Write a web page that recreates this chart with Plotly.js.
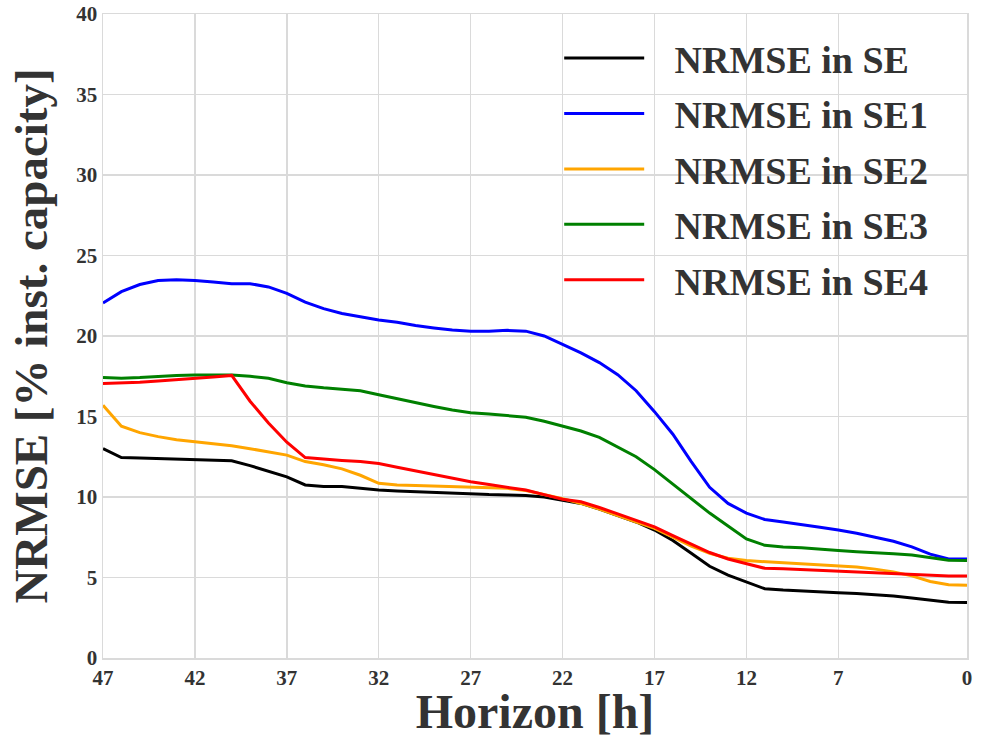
<!DOCTYPE html>
<html>
<head>
<meta charset="utf-8">
<script src="https://cdn.plot.ly/plotly-3.0.1.min.js"></script>
<style>html,body{margin:0;padding:0;background:#fff;}#chart{width:987px;height:738px;}</style>
</head>
<body>
<div id="chart"></div>
<script>
// Forecast horizon in hours (47 down to 0)
const horizon = [47,46,45,44,43,42,41,40,39,38,37,36,35,34,33,32,31,30,29,28,27,26,25,24,23,22,21,20,19,18,17,16,15,14,13,12,11,10,9,8,7,6,5,4,3,2,1,0];

const nrmseSE  = [13.0,12.45,12.42,12.38,12.35,12.32,12.28,12.25,11.95,11.6,11.25,10.75,10.65,10.65,10.55,10.43,10.38,10.33,10.28,10.22,10.17,10.15,10.13,10.1,10.0,9.8,9.6,9.25,8.85,8.45,7.95,7.3,6.5,5.7,5.15,4.7,4.3,4.22,4.18,4.12,4.06,4.0,3.93,3.85,3.72,3.6,3.47,3.45];
const nrmseSE1 = [22.05,22.75,23.2,23.45,23.5,23.45,23.35,23.25,23.25,23.05,22.65,22.1,21.7,21.4,21.2,21.0,20.85,20.65,20.5,20.37,20.3,20.3,20.35,20.3,20.0,19.5,18.95,18.35,17.6,16.6,15.3,13.9,12.2,10.6,9.6,9.0,8.6,8.45,8.3,8.12,7.95,7.75,7.5,7.25,6.9,6.45,6.15,6.15];
const nrmseSE2 = [15.7,14.4,14.0,13.75,13.55,13.43,13.3,13.18,13.0,12.82,12.6,12.2,12.0,11.75,11.35,10.85,10.75,10.72,10.68,10.64,10.6,10.57,10.54,10.4,10.15,9.9,9.6,9.25,8.85,8.45,8.05,7.5,6.95,6.5,6.2,6.05,5.98,5.93,5.87,5.8,5.72,5.65,5.52,5.35,5.1,4.75,4.55,4.52];
const nrmseSE3 = [17.43,17.38,17.42,17.5,17.55,17.58,17.58,17.58,17.5,17.37,17.1,16.9,16.78,16.7,16.6,16.35,16.1,15.85,15.62,15.4,15.24,15.16,15.05,14.95,14.7,14.4,14.1,13.7,13.1,12.5,11.7,10.8,9.85,9.0,8.2,7.4,7.0,6.9,6.85,6.75,6.68,6.6,6.55,6.48,6.4,6.25,6.07,6.05];
const nrmseSE4 = [17.05,17.07,17.12,17.2,17.27,17.35,17.45,17.55,15.95,14.6,13.4,12.45,12.35,12.27,12.2,12.08,11.85,11.62,11.4,11.17,10.95,10.77,10.6,10.43,10.15,9.86,9.7,9.35,8.95,8.55,8.15,7.6,7.05,6.55,6.15,5.85,5.57,5.55,5.5,5.45,5.38,5.33,5.3,5.25,5.18,5.13,5.1,5.1];

const seriesNames = ['NRMSE in SE','NRMSE in SE1','NRMSE in SE2','NRMSE in SE3','NRMSE in SE4'];
const seriesData = [nrmseSE, nrmseSE1, nrmseSE2, nrmseSE3, nrmseSE4];
const seriesColors = ['#000000','#0000ff','#ffa500','#008000','#ff0000'];

const xTicks = [47,42,37,32,27,22,17,12,7,0];
const yTicks = [0,5,10,15,20,25,30,35,40];

const serif = 'Liberation Serif';
const grid = '#dadada';
const pad = '\u00a0\u00a0\u2006';

const traces = seriesData.map((vals, i) => ({
  x: horizon, y: vals, type: 'scatter', mode: 'lines',
  name: pad + seriesNames[i], legendgroup: 'g' + i,
  line: {color: seriesColors[i], width: 3}
}));

const layout = {
  width: 987, height: 738,
  margin: {l: 103, r: 20, t: 14, b: 80},
  paper_bgcolor: '#fff', plot_bgcolor: '#fff',
  showlegend: true,
  legend: {
    x: 0.528, y: 0.98, xanchor: 'left', yanchor: 'top',
    bgcolor: 'rgba(0,0,0,0)', borderwidth: 0,
    font: {family: serif, size: 38, color: '#333', weight: 'bold'},
    itemwidth: 80, tracegroupgap: 3
  },
  xaxis: {
    range: [47, 0], tickmode: 'array', tickvals: xTicks, ticktext: xTicks.map(String),
    showgrid: true, gridcolor: grid, gridwidth: 1.5, zeroline: false,
    showline: true, linecolor: grid, linewidth: 1.5, mirror: true, ticks: '',
    tickfont: {family: serif, size: 21, color: '#333', weight: 'bold'},
    title: {text: 'Horizon [h]', font: {family: serif, size: 48, color: '#333', weight: 'bold'}, standoff: 12}
  },
  yaxis: {
    range: [0, 40], tickmode: 'array', tickvals: yTicks, ticktext: yTicks.map(String),
    showgrid: true, gridcolor: grid, gridwidth: 1.5, zeroline: false,
    showline: true, linecolor: grid, linewidth: 1.5, mirror: true, ticks: '',
    tickfont: {family: serif, size: 21, color: '#333', weight: 'bold'},
    title: {text: 'NRMSE [% inst. capacity]', font: {family: serif, size: 47, color: '#333', weight: 'bold'}, standoff: 14}
  }
};

Plotly.newPlot('chart', traces, layout, {displayModeBar: false, staticPlot: true});
</script>
</body>
</html>
